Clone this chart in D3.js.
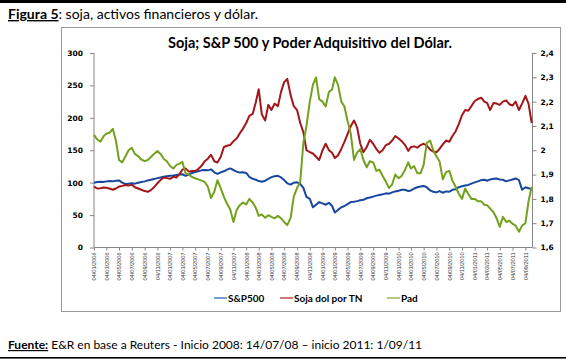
<!DOCTYPE html>
<html><head><meta charset="utf-8">
<script src="https://cdn.jsdelivr.net/npm/d3@7"></script>
<style>
html,body{margin:0;padding:0;background:#fff;}
svg{display:block;}
</style></head>
<body>
<svg id="c" width="566" height="364"></svg>
<script>
// ---- data ----
const seriesNames = ["S&P500", "Soja dol por TN", "Pad"];
// sampling dates: 4th and 19th of each month, Jan 2006 - Sep 2011, plus 4 Oct 2011
const sampleDays = [4, 19];
const firstYear = 2006, lastMonthIndex = 68; // Sep 2011
const dates = [];
for (let m = 0; m <= lastMonthIndex; m++) for (const d of sampleDays) dates.push(new Date(firstYear, m, d));
dates.push(new Date(2011, 9, 4));

const sp500 = [100,101,101.5,101,102,102.5,102,103,103.5,100,98,98.5,99,98.5,100,101,102,103.5,104.5,105.5,
107,108,109,110,110.5,111,112,112.5,113,110.5,112.5,115,116.5,117.5,119,119.5,119,120.5,116,113.5,
116,117.5,120,122,119.5,117,115.5,116,115,109,106,104.5,102.5,101.5,103,106,108.5,110,110.5,108,
104,99,97,100,100.5,98,92,78,75,62,66,70,68,66,69,64,54,58,62,64,
67,70,70.5,71.5,73,73.5,76,77,78.5,80,81,82,83.5,83,85,86.5,87.5,89,89,87,
88,91,93,94,95,93,88,86,85,87,84.5,86.5,86,89,90,93,94.5,95.5,96.5,98.5,
100.5,102,104,104.5,103,105,106,106.5,105,104.5,102,103.5,105,106.5,104,89,93,91.5,90];

const soja = [94,91,91.5,92.5,92,91,89,91,94,95,96.5,95.5,97,93,91,89,87,86,88.5,93,
99,104,108,107,106,109,108,114,120,122,117,118,118,121,126,133,137,143,133,131,
140,155,157,158,164,168,176,183,192,203,206,224,244,205,196,220,212,222,218,240,
255,260,235,218,212,192,178,150,147,145,140,135,150,160,150,146,138,142,152,163,
175,187,196,185,160,147,155,166,160,152,146,150,158,160,165,172,168,164,158,149,
155,156,154,158,160,157,151,148,147,152,159,165,163,172,179,190,204,212,211,218,
226,229,231,225,223,212,223,222,220,225,227,221,219,225,212,222,234,222,192];

const pad = [2.063,2.045,2.035,2.058,2.068,2.072,2.088,2.04,1.96,1.95,1.975,2.0,2.01,1.985,1.975,1.962,1.955,1.96,1.972,1.985,
1.997,1.985,1.965,1.955,1.935,1.925,1.94,1.945,1.952,1.905,1.90,1.89,1.885,1.88,1.875,1.87,1.85,1.804,1.829,1.877,
1.843,1.808,1.78,1.757,1.705,1.754,1.774,1.785,1.777,1.80,1.785,1.763,1.73,1.736,1.722,1.733,1.726,1.72,1.73,1.72,
1.705,1.692,1.722,1.809,1.845,1.87,2.03,2.10,2.20,2.27,2.30,2.21,2.20,2.18,2.24,2.25,2.30,2.27,2.20,2.18,
2.12,2.07,1.96,1.99,2.005,1.96,1.93,1.955,1.95,1.915,1.92,1.895,1.87,1.845,1.86,1.90,1.885,1.895,1.92,1.95,
1.925,1.935,1.905,1.905,1.94,2.03,2.04,2.0,1.975,1.955,1.88,1.91,1.915,1.875,1.85,1.822,1.80,1.843,1.82,1.80,
1.80,1.79,1.79,1.776,1.774,1.76,1.745,1.72,1.685,1.726,1.705,1.71,1.698,1.69,1.665,1.69,1.70,1.79,1.85];

const leftTicks = [0,50,100,150,200,250,300];
const rightTicks = [1.6,1.7,1.8,1.9,2.0,2.1,2.2,2.3,2.4];
const xTickDates = d3.range(35).map(k => new Date(2006, 2*k, 4));

// ---- drawing ----
const svg = d3.select("#c");
const colors = {sp:"#17479E", soja:"#A3161A", pad:"#73A11D"};
const legendColors = ["#4A7EBB", "#BE4B48", "#98B954"];
const F = "Lato, 'Open Sans', sans-serif";

// top rule
svg.append("rect").attr("x",0).attr("y",0).attr("width",566).attr("height",3).attr("fill","#000");
// bottom rule
svg.append("rect").attr("x",0).attr("y",357).attr("width",566).attr("height",1.6).attr("fill","#000");

const t1 = svg.append("text").attr("x",8).attr("y",19).attr("font-family",F).attr("font-size",14).attr("fill","#000");
t1.append("tspan").attr("font-weight","bold").attr("text-decoration","underline").text("Figura 5");
t1.append("tspan").text(": soja, activos financieros y dólar.");

// chart box
svg.append("rect").attr("x",61.5).attr("y",27.5).attr("width",499).attr("height",284)
  .attr("fill","#fff").attr("stroke","#9a9a9a").attr("stroke-width",1);

svg.append("text").attr("x",310).attr("y",48).attr("text-anchor","middle")
  .attr("font-family",F).attr("font-weight","bold").attr("font-size",14.5).attr("fill","#000")
  .text("Soja; S&P 500 y Poder Adquisitivo del Dólar.");

const x = d3.scaleTime().domain([new Date(2006,0,4), new Date(2011,9,8)]).range([94, 532.5]);
const yL = d3.scaleLinear().domain([0,300]).range([247.5, 53]);
const yR = d3.scaleLinear().domain([1.6,2.4]).range([247.5, 53]);

const axColor = "#868686";
const gL = svg.append("g").attr("transform","translate(94,0)")
  .call(d3.axisLeft(yL).tickValues(leftTicks).tickSize(4).tickPadding(7).tickFormat(d3.format("d")));
const gR = svg.append("g").attr("transform","translate(532.5,0)")
  .call(d3.axisRight(yR).tickValues(rightTicks).tickSize(4).tickPadding(4)
    .tickFormat(d => d3.format(".1f")(d).replace(".", ",").replace(/,0$/, "")));
const gB = svg.append("g").attr("transform","translate(0,247.5)")
  .call(d3.axisBottom(x).tickValues(xTickDates).tickSize(3).tickFormat(d3.timeFormat("%d/%m/%Y")));

[gL,gR,gB].forEach(g => {
  g.select(".domain").attr("stroke",axColor);
  g.selectAll(".tick line").attr("stroke",axColor);
});
[gL,gR].forEach(g => g.selectAll(".tick text").attr("font-family","'DejaVu Sans', Verdana, sans-serif")
  .attr("font-weight","bold").attr("font-size",7.5).attr("fill","#000"));
gL.select(".domain").attr("d","M0,53V247.5");
gR.select(".domain").attr("d","M0,53V247.5");
gB.select(".domain").attr("d","M94,0H532.5");
gB.selectAll(".tick text").attr("font-family","'Liberation Sans', Arial, sans-serif").attr("font-size",5.6)
  .attr("fill","#333").attr("text-anchor","end").attr("dy","0.32em")
  .attr("transform","translate(0,5) rotate(-90)").attr("x",0).attr("y",0);

const lineL = d3.line().x((d,i) => x(dates[i])).y(d => yL(d));
const lineR = d3.line().x((d,i) => x(dates[i])).y(d => yR(d));
svg.append("path").datum(sp500).attr("d",lineL).attr("fill","none").attr("stroke",colors.sp).attr("stroke-width",2).attr("stroke-linejoin","round");
svg.append("path").datum(soja).attr("d",lineL).attr("fill","none").attr("stroke",colors.soja).attr("stroke-width",2).attr("stroke-linejoin","round");
svg.append("path").datum(pad).attr("d",lineR).attr("fill","none").attr("stroke",colors.pad).attr("stroke-width",2).attr("stroke-linejoin","round");

// legend
const legX = [214, 280, 387];
seriesNames.forEach((n,i) => {
  svg.append("line").attr("x1",legX[i]).attr("x2",legX[i]+13).attr("y1",298).attr("y2",298)
    .attr("stroke",legendColors[i]).attr("stroke-width",1.5);
  svg.append("text").attr("x",legX[i]+14).attr("y",301.5).attr("font-family",F).attr("font-weight","bold")
    .attr("font-size",10).attr("fill","#000").text(n);
});

const t2 = svg.append("text").attr("x",8).attr("y",349).attr("font-family",F).attr("font-size",12).attr("fill","#000");
t2.append("tspan").attr("font-weight","bold").attr("text-decoration","underline").text("Fuente:");
t2.append("tspan").text(" E&R en base a Reuters - Inicio 2008: 14/07/08 – inicio 2011: 1/09/11");
</script>
</body></html>
